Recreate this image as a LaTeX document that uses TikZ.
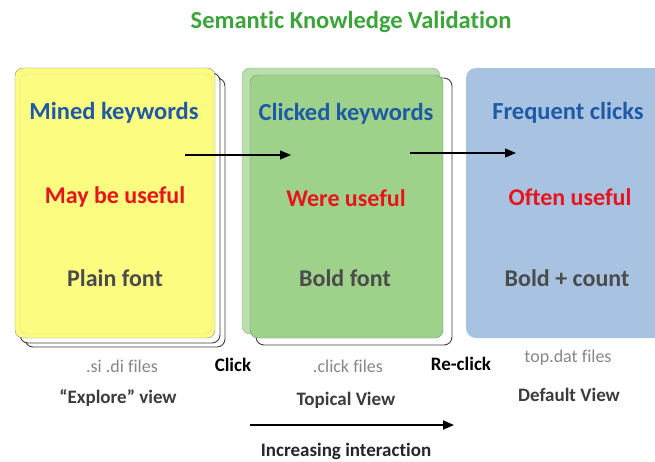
\documentclass[tikz,border=0pt]{standalone}
\usepackage{fontspec}
\setmainfont{Carlito}[Ligatures=NoCommon]
\usetikzlibrary{arrows.meta}

\definecolor{cardyellow}{RGB}{252,252,128}
\definecolor{cardgreen}{RGB}{158,210,138}
\definecolor{cardgreenlight}{RGB}{186,222,172}
\definecolor{cardblue}{RGB}{168,195,226}
\definecolor{headblue}{RGB}{30,90,165}
\definecolor{usered}{RGB}{232,20,28}
\definecolor{fontgray}{RGB}{75,75,75}
\definecolor{filegray}{RGB}{135,135,135}
\definecolor{titlegreen}{RGB}{58,166,58}

\tikzset{
  head/.style={text=headblue, font=\bfseries\fontsize{24.5}{28}\selectfont},
  useful/.style={text=usered, font=\bfseries\fontsize{24}{28}\selectfont},
  look/.style={text=fontgray, font=\bfseries\fontsize{24}{28}\selectfont},
  files/.style={text=filegray, font=\fontsize{18}{21}\selectfont},
  act/.style={text=black, font=\bfseries\fontsize{19}{22}\selectfont},
  view/.style={text=fontgray!80!black, font=\bfseries\fontsize{19}{22}\selectfont},
  page/.style={draw=black!75, line width=0.9pt, fill=white, rounded corners=8},
  flow/.style={-{Triangle[length=11pt,width=9pt]}, line width=1.1pt}
}

\begin{document}
\begin{tikzpicture}[x=1pt,y=-1pt]
    \clip (0,0) rectangle (655,461);
    \fill[white] (0,0) rectangle (655,461);

    \coordinate (A1) at (185,155);
    \coordinate (A2) at (291,155);
    \coordinate (B1) at (410,153);
    \coordinate (B2) at (516,153);
    \coordinate (C1) at (250,425);
    \coordinate (C2) at (454,425);

    % explore card
    \draw[page] (25,78) rectangle (225,347);
    \draw[page] (20,73) rectangle (220,343);
    \draw[draw=black!45, fill=cardyellow, rounded corners=8] (15,68) rectangle (215,338);
    \draw[draw=yellow!70!black!50, rounded corners=7] (20,74) rectangle (212,334);

    % topical card
    \draw[page] (256,78) rectangle (452,345);
    \draw[draw=cardgreenlight!80!black, fill=cardgreenlight, rounded corners=8] (242,68) rectangle (440,334);
    \draw[draw=cardgreen!70!black, fill=cardgreen, rounded corners=8] (250,75) rectangle (443,338);

    % default card
    \fill[cardblue, rounded corners=10] (466,68) rectangle (680,338);

    \node[text=titlegreen, font=\bfseries\fontsize{24.5}{28}\selectfont] (title) at (351,22) {Semantic Knowledge Validation};

    \node[head] (mined) at (114,113) {Mined keywords};
    \node[useful] (may) at (115,197) {May be useful};
    \node[look] (plain) at (115,278) {Plain font};

    \node[head] (clicked) at (346,114) {Clicked keywords};
    \node[useful] (were) at (346,198) {Were useful};
    \node[look] (bold) at (345,278) {Bold font};

    \node[head] (freq) at (568,113) {Frequent clicks};
    \node[useful] (often) at (570,197) {Often useful};
    \node[look] (count) at (567,278) {Bold + count};

    \node[files] (sidi) at (122,366) {.si .di files};
    \node[act] (click) at (233,365) {Click};
    \node[files] (clickf) at (348,366) {.click files};
    \node[act] (reclick) at (461,364) {Re-click};
    \node[files] (topdat) at (568,358) {top.dat files};

    \node[view] (explore) at (118,398) {“Explore” view};
    \node[view] (topical) at (346,400) {Topical View};
    \node[view] (default) at (569,395) {Default View};

    \node[view, text=black!85] (incr) at (346,451) {Increasing interaction};

    \draw[flow] (A1) -- (A2);
    \draw[flow] (B1) -- (B2);
    \draw[flow, line width=1.8pt] (C1) -- (C2);
\end{tikzpicture}
\end{document}
